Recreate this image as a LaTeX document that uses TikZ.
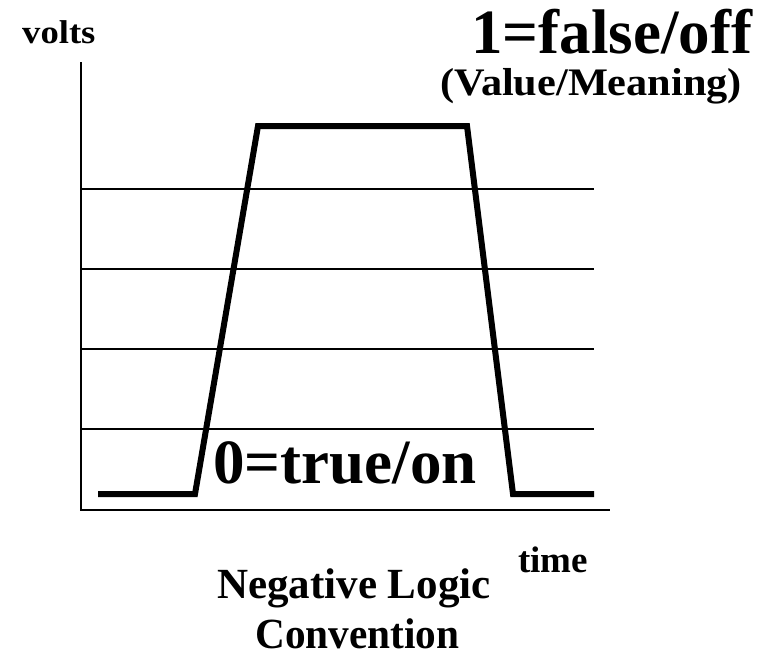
\documentclass[tikz,border=0pt]{standalone}
\usepackage{fontspec}
\setmainfont{Liberation Serif}
\tikzset{
  lbl/.style={anchor=base west, inner sep=0pt, font=\bfseries},
  axisline/.style={line width=2.6pt},
  gridline/.style={line width=1.8pt},
  wave/.style={line width=6pt, line join=miter}
}
\begin{document}
\begin{tikzpicture}[x=1pt,y=-1pt]
\useasboundingbox (0,0) rectangle (775,653);
% axes
\coordinate (ytop) at (81,62);
\coordinate (orig) at (81,510);
\coordinate (xend) at (610,510);
\draw[axisline] (ytop) -- (orig) -- (xend);
% grid lines
\foreach \y/\n in {189/g1,269/g2,349/g3,429/g4}{
  \coordinate (\n a) at (81,\y);
  \coordinate (\n b) at (594,\y);
  \draw[gridline] (\n a) -- (\n b);
}
% waveform
\coordinate (w1) at (98,494);
\coordinate (w2) at (195,494);
\coordinate (w3) at (258,126);
\coordinate (w4) at (467,126);
\coordinate (w5) at (513,494);
\coordinate (w6) at (594,494);
\draw[wave] (w1) -- (w2) -- (w3) -- (w4) -- (w5) -- (w6);
% labels
\node[lbl] (volts) at (22,43) {\fontsize{33}{33}\selectfont\scalebox{1.11}[1]{volts}};
\node[lbl] (one) at (471,53) {\fontsize{63}{63}\selectfont 1=false/off};
\node[lbl] (vm) at (440,95) {\fontsize{39}{39}\selectfont\scalebox{1.085}[1]{(Value/Meaning)}};
\node[lbl] (zero) at (213,483) {\fontsize{63}{63}\selectfont 0=true/on};
\node[lbl] (time) at (518,572) {\fontsize{37}{37}\selectfont time};
\node[lbl] (neg) at (217,598) {\fontsize{43}{43}\selectfont Negative Logic};
\node[lbl] (conv) at (255,648) {\fontsize{43}{43}\selectfont\scalebox{0.96}[1]{Convention}};
\end{tikzpicture}
\end{document}
